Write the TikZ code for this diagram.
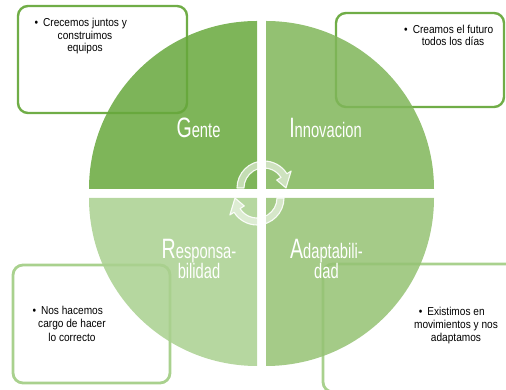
\documentclass[tikz,border=0pt]{standalone}
\usepackage{fontspec}
\usepackage{xcolor}
\usepackage{tikz}
\setmainfont{Liberation Sans}
\newfontfamily\lblfont[FakeStretch=0.7]{Liberation Sans}
\newfontfamily\txtfont[FakeStretch=0.88]{Liberation Sans}

\definecolor{boxdark}{HTML}{70AD47}
\definecolor{boxlight}{HTML}{A9D18E}
\definecolor{quadG}{HTML}{67A83C}
\definecolor{quadI}{HTML}{80B659}
\definecolor{quadA}{HTML}{95C273}
\definecolor{quadR}{HTML}{A9D08F}

% first letter of each value
\newcommand{\biginit}[1]{{\fontsize{28}{28}\selectfont #1}}
\newcommand{\bul}{\llap{\textbullet\hspace{5pt}}}

\tikzset{
    valuebox/.style={draw=boxdark, line width=2.4pt, fill=white, rounded corners=10pt, inner sep=0pt},
    quad/.style={fill opacity=0.85},
    bullettext/.style={font=\txtfont\fontsize{11.5}{12.4}\selectfont, align=center, anchor=base, inner sep=0pt},
    valuelabel/.style={text=white, font=\lblfont\fontsize{21}{21}\selectfont, align=center, anchor=base, inner sep=0pt},
    cycarrow/.pic={
        \draw[fill=white, fill opacity=0.55, draw=white, draw opacity=0.9, line width=1.1pt, line join=round]
            (180:27) arc[start angle=180, end angle=32, radius=27]
            -- (32:32) -- (0:22) -- (32:15) -- (32:20)
            arc[start angle=32, end angle=180, radius=20] -- cycle;
    }
}

\begin{document}
\begin{tikzpicture}[x=1pt, y=1pt]
    \useasboundingbox (0,0) rectangle (506,390);
    \clip (0,0) rectangle (506,390);

    % boxes behind the circle
    \node[valuebox, minimum width=169, minimum height=107] (boxG) at (102.5,330.5) {};
    \node[valuebox, minimum width=168, minimum height=94] (boxI) at (420,330) {};
    \node[valuebox, draw=boxlight, line width=2.8pt, minimum width=157, minimum height=118] (boxR) at (91.5,66) {};
    \node[valuebox, draw=boxlight, line width=2.8pt, minimum width=200, minimum height=128] (boxA) at (423,62) {};

    % the four quarters
    \fill[quad, quadG] (257,201) -- ++(-168,0) arc[start angle=180, end angle=90, radius=168] -- cycle;
    \fill[quad, quadI] (266,201) -- ++(0,168) arc[start angle=90, end angle=0, radius=168] -- cycle;
    \fill[quad, quadR] (257,192) -- ++(0,-168) arc[start angle=270, end angle=180, radius=168] -- cycle;
    \fill[quad, quadA] (266,192) -- ++(168,0) arc[start angle=0, end angle=-90, radius=168] -- cycle;

    % labels (base = last line)
    \node[valuelabel] (lblG) at (198.5,252) {\biginit{G}ente};
    \node[valuelabel] (lblI) at (325.5,252) {\biginit{I}nnovacion};
    \node[valuelabel] (lblR) at (199,111) {\biginit{R}esponsa-\\[-1pt]bilidad};
    \node[valuelabel] (lblA) at (326.5,111) {\biginit{A}daptabili-\\[-1pt]dad};

    % box texts
    \node[bullettext] (txtG) at (85,338.3) {\bul Crecemos juntos y\\construimos\\equipos};
    \node[bullettext] (txtI) at (453,344.3) {\bul Creamos el futuro\\todos los días};
    \node[bullettext, font=\txtfont\fontsize{11.5}{13.7}\selectfont] (txtR) at (72,48.3) {\bul Nos hacemos\\cargo de hacer\\lo correcto};
    \node[bullettext, font=\txtfont\fontsize{11.5}{13.2}\selectfont] (txtA) at (456,48.3) {\bul Existimos en\\movimientos y nos\\adaptamos};

    % cycle arrows
    \pic at (264,202) {cycarrow};
    \pic[rotate=180] at (257,192) {cycarrow};
\end{tikzpicture}
\end{document}
